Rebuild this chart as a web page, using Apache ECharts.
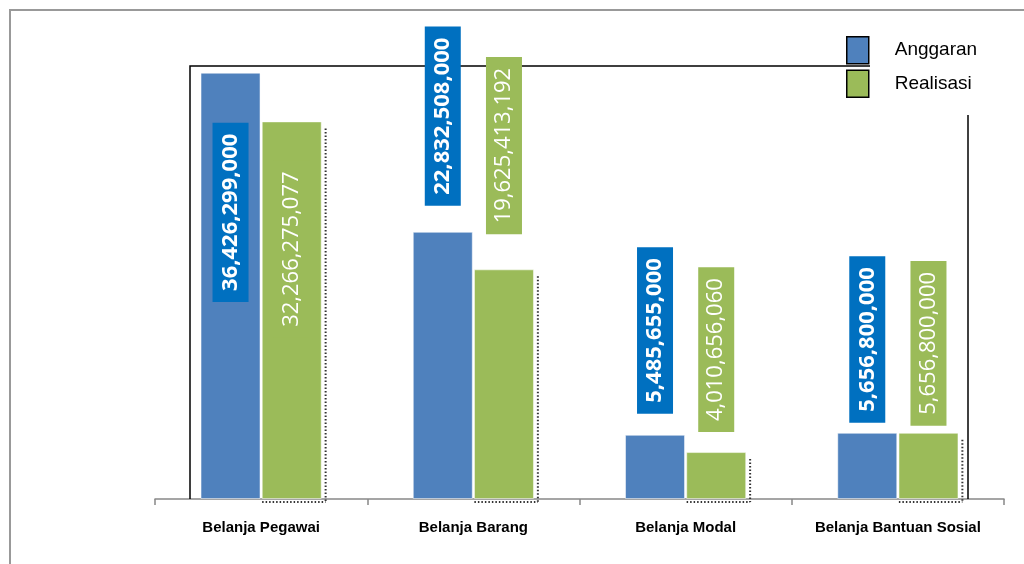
<!DOCTYPE html>
<html>
<head>
<meta charset="utf-8">
<script src="https://cdn.jsdelivr.net/npm/echarts@6/dist/echarts.min.js"></script>
<style>
html,body{margin:0;padding:0;background:#fff;}
#chart{width:1024px;height:564px;}
</style>
</head>
<body>
<div id="chart"></div>
<script>
const categories = ['Belanja Pegawai', 'Belanja Barang', 'Belanja Modal', 'Belanja Bantuan Sosial'];
const anggaran = [36426299000, 22832508000, 5485655000, 5656800000];
const realisasi = [32266275077, 19625413192, 4010656060, 5656800000];
const seriesNames = ['Anggaran', 'Realisasi'];

// label layout (gap between bar top and label box, px)
const gapA = [50, 26, 21, 10];
const gapR = [39, 35, 20, 7];
const BAR_W = 60;

const fmt = v => Number(v).toLocaleString('en-US');

function labelBase(bg, bold) {
  return {
    show: true,
    rotate: 90,
    verticalAlign: 'middle',
    color: '#fff',
    fontFamily: 'Open Sans',
    fontSize: 22,
    fontWeight: bold ? 'bold' : 'normal',
    lineHeight: 22,
    backgroundColor: bg,
    padding: [7, 11],
    formatter: p => fmt(p.value)
  };
}

function buildData(values, gaps, bg, bold) {
  return values.map((v, i) => {
    const lab = labelBase(bg, bold);
    if (i === 0) {
      Object.assign(lab, { position: 'insideTop', align: 'right', distance: gaps[i] });
    } else {
      Object.assign(lab, { position: 'top', align: 'left', distance: gaps[i] });
    }
    return { value: v, label: lab };
  });
}

// dotted "shadow" outline to the right / bottom of the Realisasi bars
function shadowItem(params, api) {
  const top = api.coord([api.value(0), api.value(1)]);
  const base = api.coord([api.value(0), 0]);
  const left = top[0] + 1;
  const right = top[0] + BAR_W + 4.5;
  const style = { stroke: '#333', lineWidth: 2, lineDash: [1.5, 2], fill: null };
  return {
    type: 'group',
    children: [
      { type: 'line', shape: { x1: right, y1: top[1] + 7, x2: right, y2: base[1] + 3 }, style: style },
      { type: 'line', shape: { x1: left, y1: base[1] + 3, x2: right, y2: base[1] + 3 }, style: style }
    ]
  };
}

const chart = echarts.init(document.getElementById('chart'), null, { renderer: 'canvas' });
chart.setOption({
  animation: false,
  backgroundColor: '#fff',
  grid: { left: 155, right: 20, top: 66, bottom: 65 },
  legend: {
    orient: 'vertical',
    left: 841,
    top: 31,
    itemWidth: 22,
    itemHeight: 27,
    itemGap: 5,
    icon: 'rect',
    itemStyle: { borderColor: '#000', borderWidth: 1.5 },
    textStyle: { fontFamily: 'Liberation Sans', fontSize: 19, color: '#000', padding: [0, 0, 0, 21] },
    data: seriesNames
  },
  xAxis: {
    type: 'category',
    data: categories,
    axisLine: { lineStyle: { color: '#888', width: 1.5 } },
    axisTick: { show: true, interval: 0, length: 6, lineStyle: { color: '#888', width: 1.5 } },
    axisLabel: { interval: 0, color: '#000', fontFamily: 'Liberation Sans', fontWeight: 'bold', fontSize: 15, margin: 21 }
  },
  yAxis: { type: 'value', min: 0, max: 37000000000, show: false },
  series: [
    {
      type: 'custom', renderItem: shadowItem, silent: true, z: 1,
      encode: { x: 0, y: 1 },
      data: realisasi.map((v, i) => [i, v])
    },
    {
      name: seriesNames[0], type: 'bar', barWidth: BAR_W, barGap: '2%',
      itemStyle: { color: '#4F81BD', borderColor: 'rgba(255,255,255,0.5)', borderWidth: 1 },
      data: buildData(anggaran, gapA, '#0070C0', true),
      z: 3
    },
    {
      name: seriesNames[1], type: 'bar', barWidth: BAR_W,
      itemStyle: { color: '#9BBB59', borderColor: 'rgba(255,255,255,0.5)', borderWidth: 1 },
      data: buildData(realisasi, gapR, '#9BBB59', false),
      z: 3
    }
  ],
  graphic: [
    { type: 'rect', shape: { x: 10, y: 10, width: 1100, height: 700 }, style: { fill: 'none', stroke: '#999', lineWidth: 2 }, silent: true, z: -1 },
    { type: 'polyline', shape: { points: [[870, 66], [190, 66], [190, 499]] }, style: { fill: 'none', stroke: '#000', lineWidth: 1.5 }, silent: true, z: 1 },
    { type: 'line', shape: { x1: 968, y1: 115, x2: 968, y2: 499 }, style: { stroke: '#000', lineWidth: 1.5 }, silent: true, z: 1 }
  ]
});
</script>
</body>
</html>
